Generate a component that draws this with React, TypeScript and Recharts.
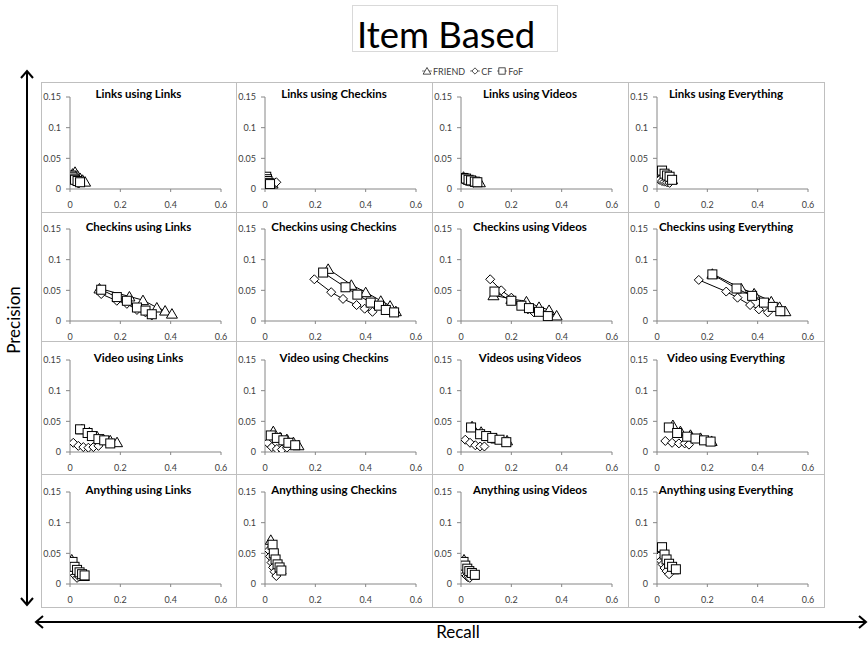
import React from 'react';
import { ScatterChart, Scatter, XAxis, YAxis } from 'recharts';

type Pt = [number, number];

const SERIES_NAMES = ['FRIEND', 'CF', 'FoF'];
const X_TICKS = [0, 0.2, 0.4, 0.6];
const Y_TICKS = [0, 0.05, 0.1, 0.15];

const PANEL_TITLES = [
  'Links using Links', 'Links using Checkins', 'Links using Videos', 'Links using Everything',
  'Checkins using Links', 'Checkins using Checkins', 'Checkins using Videos', 'Checkins using Everything',
  'Video using Links', 'Video using Checkins', 'Videos using Videos', 'Video using Everything',
  'Anything using Links', 'Anything using Checkins', 'Anything using Videos', 'Anything using Everything',
];

// Row 1 – Links
const linksLinksFriend: Pt[] = [[0.01, 0.025], [0.02, 0.028], [0.03, 0.022], [0.04, 0.018], [0.05, 0.015], [0.06, 0.012]];
const linksLinksCF: Pt[] = [[0.005, 0.02], [0.01, 0.017], [0.015, 0.014], [0.02, 0.012], [0.03, 0.01], [0.035, 0.009]];
const linksLinksFoF: Pt[] = [[0.005, 0.022], [0.01, 0.02], [0.015, 0.017], [0.02, 0.015], [0.03, 0.013], [0.04, 0.011]];

const linksCheckinsFriend: Pt[] = [[0.01, 0.015], [0.015, 0.013], [0.02, 0.011], [0.025, 0.01], [0.03, 0.009]];
const linksCheckinsCF: Pt[] = [[0.01, 0.01], [0.02, 0.009], [0.03, 0.009], [0.04, 0.01], [0.045, 0.011]];
const linksCheckinsFoF: Pt[] = [[0.005, 0.02], [0.008, 0.016], [0.01, 0.013], [0.015, 0.01], [0.02, 0.008]];

const linksVideosFriend: Pt[] = [[0.01, 0.02], [0.02, 0.018], [0.03, 0.016], [0.045, 0.014], [0.06, 0.012], [0.075, 0.011]];
const linksVideosCF: Pt[] = [[0.01, 0.015], [0.02, 0.013], [0.03, 0.012], [0.04, 0.011], [0.05, 0.01]];
const linksVideosFoF: Pt[] = [[0.01, 0.018], [0.02, 0.017], [0.03, 0.015], [0.04, 0.014], [0.055, 0.012], [0.065, 0.011]];

const linksEverythingFriend: Pt[] = [[0.02, 0.025], [0.03, 0.022], [0.04, 0.02], [0.05, 0.018], [0.06, 0.016]];
const linksEverythingCF: Pt[] = [[0.01, 0.015], [0.02, 0.013], [0.03, 0.012], [0.04, 0.011], [0.05, 0.01]];
const linksEverythingFoF: Pt[] = [[0.02, 0.03], [0.03, 0.025], [0.04, 0.022], [0.05, 0.02], [0.06, 0.015]];

// Row 2 – Checkins
const checkinsLinksFriend: Pt[] = [[0.117, 0.053], [0.236, 0.04], [0.29, 0.034], [0.345, 0.022], [0.378, 0.017], [0.405, 0.012]];
const checkinsLinksCF: Pt[] = [[0.124, 0.044], [0.186, 0.033], [0.226, 0.028], [0.266, 0.018], [0.3, 0.014], [0.325, 0.009]];
const checkinsLinksFoF: Pt[] = [[0.124, 0.051], [0.186, 0.039], [0.226, 0.033], [0.266, 0.022], [0.3, 0.017], [0.325, 0.011]];

const checkinsCheckinsFriend: Pt[] = [[0.251, 0.085], [0.343, 0.059], [0.4, 0.047], [0.46, 0.033], [0.497, 0.025], [0.52, 0.016]];
const checkinsCheckinsCF: Pt[] = [[0.196, 0.068], [0.263, 0.047], [0.31, 0.036], [0.364, 0.026], [0.396, 0.02], [0.427, 0.015]];
const checkinsCheckinsFoF: Pt[] = [[0.231, 0.079], [0.32, 0.055], [0.367, 0.043], [0.42, 0.03], [0.453, 0.025], [0.48, 0.018], [0.513, 0.014]];

const checkinsVideosFriend: Pt[] = [[0.129, 0.042], [0.2, 0.036], [0.26, 0.032], [0.31, 0.023], [0.35, 0.018], [0.38, 0.009]];
const checkinsVideosCF: Pt[] = [[0.116, 0.068], [0.16, 0.05], [0.2, 0.038], [0.24, 0.027], [0.266, 0.019], [0.29, 0.014]];
const checkinsVideosFoF: Pt[] = [[0.133, 0.048], [0.2, 0.033], [0.24, 0.025], [0.27, 0.021], [0.31, 0.015], [0.345, 0.008]];

const checkinsEverythingFriend: Pt[] = [[0.22, 0.077], [0.335, 0.053], [0.386, 0.045], [0.454, 0.032], [0.487, 0.023], [0.51, 0.016]];
const checkinsEverythingCF: Pt[] = [[0.166, 0.067], [0.275, 0.048], [0.32, 0.038], [0.37, 0.026], [0.405, 0.019], [0.44, 0.014]];
const checkinsEverythingFoF: Pt[] = [[0.22, 0.076], [0.316, 0.053], [0.378, 0.041], [0.425, 0.03], [0.46, 0.023], [0.49, 0.016]];

// Row 3 – Video
const videoLinksFriend: Pt[] = [[0.047, 0.037], [0.077, 0.032], [0.107, 0.026], [0.133, 0.021], [0.16, 0.019], [0.187, 0.016]];
const videoLinksCF: Pt[] = [[0.013, 0.015], [0.033, 0.01], [0.053, 0.008], [0.073, 0.007], [0.093, 0.008], [0.113, 0.01]];
const videoLinksFoF: Pt[] = [[0.04, 0.037], [0.07, 0.031], [0.087, 0.026], [0.113, 0.021], [0.136, 0.019], [0.16, 0.014]];

const videoCheckinsFriend: Pt[] = [[0.033, 0.034], [0.06, 0.024], [0.087, 0.021], [0.113, 0.016], [0.133, 0.011]];
const videoCheckinsCF: Pt[] = [[0.01, 0.015], [0.027, 0.008], [0.047, 0.005], [0.067, 0.004], [0.087, 0.007]];
const videoCheckinsFoF: Pt[] = [[0.023, 0.027], [0.047, 0.023], [0.073, 0.019], [0.093, 0.015], [0.12, 0.011]];

const videoVideosFriend: Pt[] = [[0.044, 0.042], [0.08, 0.033], [0.113, 0.026], [0.14, 0.022], [0.183, 0.019]];
const videoVideosCF: Pt[] = [[0.017, 0.02], [0.036, 0.015], [0.057, 0.011], [0.076, 0.009], [0.093, 0.009]];
const videoVideosFoF: Pt[] = [[0.04, 0.04], [0.076, 0.029], [0.1, 0.026], [0.124, 0.023], [0.153, 0.02], [0.18, 0.016]];

const videoEverythingFriend: Pt[] = [[0.063, 0.044], [0.093, 0.034], [0.133, 0.028], [0.173, 0.023], [0.217, 0.018]];
const videoEverythingCF: Pt[] = [[0.033, 0.018], [0.06, 0.015], [0.087, 0.014], [0.11, 0.014], [0.127, 0.012]];
const videoEverythingFoF: Pt[] = [[0.047, 0.04], [0.08, 0.031], [0.12, 0.025], [0.153, 0.022], [0.187, 0.019], [0.213, 0.017]];

// Row 4 – Anything
const anythingLinksFriend: Pt[] = [[0.007, 0.04], [0.015, 0.03], [0.025, 0.025], [0.035, 0.02], [0.045, 0.016], [0.055, 0.013]];
const anythingLinksCF: Pt[] = [[0.005, 0.022], [0.012, 0.018], [0.02, 0.014], [0.028, 0.01], [0.035, 0.012], [0.045, 0.014]];
const anythingLinksFoF: Pt[] = [[0.01, 0.036], [0.018, 0.028], [0.028, 0.023], [0.038, 0.019], [0.048, 0.016], [0.058, 0.014]];

const anythingCheckinsFriend: Pt[] = [[0.023, 0.072], [0.03, 0.058], [0.037, 0.046], [0.045, 0.037], [0.053, 0.03], [0.062, 0.024]];
const anythingCheckinsCF: Pt[] = [[0.015, 0.055], [0.02, 0.045], [0.026, 0.035], [0.032, 0.027], [0.038, 0.02], [0.045, 0.013]];
const anythingCheckinsFoF: Pt[] = [[0.03, 0.064], [0.035, 0.05], [0.042, 0.04], [0.05, 0.032], [0.058, 0.027], [0.065, 0.022]];

const anythingVideosFriend: Pt[] = [[0.012, 0.04], [0.018, 0.032], [0.025, 0.027], [0.033, 0.022], [0.042, 0.018], [0.05, 0.015]];
const anythingVideosCF: Pt[] = [[0.005, 0.022], [0.01, 0.019], [0.016, 0.016], [0.022, 0.013], [0.028, 0.011], [0.035, 0.01]];
const anythingVideosFoF: Pt[] = [[0.01, 0.036], [0.017, 0.03], [0.025, 0.025], [0.033, 0.021], [0.043, 0.018], [0.055, 0.015]];

const anythingEverythingFriend: Pt[] = [[0.02, 0.055], [0.028, 0.045], [0.036, 0.038], [0.045, 0.032], [0.055, 0.027], [0.065, 0.024]];
const anythingEverythingCF: Pt[] = [[0.008, 0.045], [0.015, 0.038], [0.022, 0.032], [0.03, 0.026], [0.038, 0.021], [0.048, 0.016]];
const anythingEverythingFoF: Pt[] = [[0.02, 0.06], [0.03, 0.048], [0.038, 0.04], [0.048, 0.033], [0.06, 0.028], [0.075, 0.024]];

const PANEL_SERIES: Pt[][][] = [
  [linksLinksFriend, linksLinksCF, linksLinksFoF],
  [linksCheckinsFriend, linksCheckinsCF, linksCheckinsFoF],
  [linksVideosFriend, linksVideosCF, linksVideosFoF],
  [linksEverythingFriend, linksEverythingCF, linksEverythingFoF],
  [checkinsLinksFriend, checkinsLinksCF, checkinsLinksFoF],
  [checkinsCheckinsFriend, checkinsCheckinsCF, checkinsCheckinsFoF],
  [checkinsVideosFriend, checkinsVideosCF, checkinsVideosFoF],
  [checkinsEverythingFriend, checkinsEverythingCF, checkinsEverythingFoF],
  [videoLinksFriend, videoLinksCF, videoLinksFoF],
  [videoCheckinsFriend, videoCheckinsCF, videoCheckinsFoF],
  [videoVideosFriend, videoVideosCF, videoVideosFoF],
  [videoEverythingFriend, videoEverythingCF, videoEverythingFoF],
  [anythingLinksFriend, anythingLinksCF, anythingLinksFoF],
  [anythingCheckinsFriend, anythingCheckinsCF, anythingCheckinsFoF],
  [anythingVideosFriend, anythingVideosCF, anythingVideosFoF],
  [anythingEverythingFriend, anythingEverythingCF, anythingEverythingFoF],
];

// layout
const COL_LEFTS = [41, 236, 432, 628];
const COL_WIDTHS = [195, 196, 196, 196];
const ROW_TOPS = [82, 212, 341, 474];
const ROW_HEIGHTS = [130, 129, 133, 133];
const PLOT_TOP = [15, 17, 19, 18];
const TITLE_Y = [12, 15, 17, 16];
const PLOT_W = 151;
const PLOT_H = 92;
const Y_AXIS_W = 29;
const FONT = 'Lato, "DejaVu Sans", sans-serif';

const Triangle = (p: any) => (
  <polygon
    points={`${p.cx},${p.cy - 5} ${p.cx + 5.5},${p.cy + 4.5} ${p.cx - 5.5},${p.cy + 4.5}`}
    fill="#fff" stroke="#000" strokeWidth={1}
  />
);
const Diamond = (p: any) => (
  <polygon
    points={`${p.cx},${p.cy - 4.5} ${p.cx + 4.5},${p.cy} ${p.cx},${p.cy + 4.5} ${p.cx - 4.5},${p.cy}`}
    fill="#fff" stroke="#000" strokeWidth={1}
  />
);
const Square = (p: any) => (
  <rect x={p.cx - 4.5} y={p.cy - 4.5} width={9} height={9} fill="#fff" stroke="#000" strokeWidth={1} />
);
const SHAPES = [Triangle, Diamond, Square];

const toData = (pts: Pt[]) => pts.map(([x, y]) => ({ x, y }));

function Panel({ idx }: { idx: number }) {
  const row = Math.floor(idx / 4);
  const col = idx % 4;
  const left = COL_LEFTS[col];
  const top = ROW_TOPS[row];
  const w = COL_WIDTHS[col];
  const h = ROW_HEIGHTS[row];
  const pt = PLOT_TOP[row];
  const xAxisH = h - pt - PLOT_H;
  const right = w - Y_AXIS_W - PLOT_W;
  const tickStyle = { fontSize: 9, fill: '#404040', fontFamily: FONT };
  return (
    <>
      <div
        style={{
          position: 'absolute', left, top, width: w + 1, height: h + 1,
          border: '1px solid #bfbfbf', boxSizing: 'border-box',
        }}
      />
      <div style={{ position: 'absolute', left, top, width: w, height: h }}>
        <ScatterChart width={w} height={h} margin={{ top: pt, right, bottom: 0, left: 0 }}>
          <XAxis
            type="number" dataKey="x" domain={[0, 0.6]} ticks={X_TICKS} height={xAxisH}
            allowDataOverflow interval={0}
            axisLine={{ stroke: '#868686' }} tickLine={{ stroke: '#868686' }}
            tickSize={3} tickMargin={10} tick={tickStyle}
          />
          <YAxis
            type="number" dataKey="y" domain={[0, 0.15]} ticks={Y_TICKS} width={Y_AXIS_W}
            allowDataOverflow interval={0}
            axisLine={{ stroke: '#868686' }} tickLine={{ stroke: '#868686' }}
            tickSize={4} tickMargin={5} tick={tickStyle}
          />
          {PANEL_SERIES[idx].map((pts, s) => (
            <Scatter
              key={SERIES_NAMES[s]}
              name={SERIES_NAMES[s]}
              data={toData(pts)}
              shape={SHAPES[s]}
              line={{ stroke: '#000', strokeWidth: 1 }}
              fill="#fff"
              isAnimationActive={false}
            />
          ))}
        </ScatterChart>
      </div>
      <div
        style={{
          position: 'absolute', left, top: top + TITLE_Y[row] - 8, width: w, height: 16,
          textAlign: 'center', fontFamily: FONT, fontWeight: 700, fontSize: 11.5,
          lineHeight: '16px', color: '#000', whiteSpace: 'nowrap',
        }}
      >
        {PANEL_TITLES[idx]}
      </div>
    </>
  );
}

function LegendIcon({ s }: { s: number }) {
  const S = SHAPES[s];
  return (
    <svg width={10} height={10} style={{ display: 'inline-block', verticalAlign: 'middle', marginRight: 1 }}>
      <line x1={0} y1={5} x2={10} y2={5} stroke="#808080" strokeWidth={1} />
      <g transform="translate(5,5) scale(0.7) translate(-5,-5)">
        {S({ cx: 5, cy: 5 })}
      </g>
    </svg>
  );
}

export default function App() {
  return (
    <div style={{ position: 'absolute', left: 0, top: 0, width: 868, height: 646, background: '#fff', fontFamily: FONT }}>
      <svg width={868} height={646} style={{ position: 'absolute', left: 0, top: 0 }}>
        <rect x={352.5} y={5.5} width={205} height={46} fill="#fff" stroke="#d9d9d9" strokeWidth={1} />
        <text x={357} y={48} fontSize={36.5} fontFamily={FONT} fill="#000">Item Based</text>
        {/* vertical arrow */}
        <line x1={27} y1={71} x2={27} y2={605} stroke="#000" strokeWidth={2} />
        <polyline points="21,78 27,71 33,78" fill="none" stroke="#000" strokeWidth={2} />
        <polyline points="21,598 27,605 33,598" fill="none" stroke="#000" strokeWidth={2} />
        {/* horizontal arrow */}
        <line x1={36} y1={622} x2={866} y2={622} stroke="#000" strokeWidth={2} />
        <polyline points="43,616 36,622 43,628" fill="none" stroke="#000" strokeWidth={2} />
        <polyline points="859,616 866,622 859,628" fill="none" stroke="#000" strokeWidth={2} />
        <text x={13} y={320} fontSize={17} fontFamily={FONT} fill="#000" textAnchor="middle"
          dominantBaseline="central" transform="rotate(-90 13 320)">Precision</text>
        <text x={458} y={638} fontSize={17} fontFamily={FONT} fill="#000" textAnchor="middle">Recall</text>
      </svg>
      <div
        style={{
          position: 'absolute', left: 422, top: 65, height: 12, display: 'flex', alignItems: 'center',
          fontSize: 9, color: '#404040', fontFamily: FONT, whiteSpace: 'nowrap',
        }}
      >
        {SERIES_NAMES.map((n, s) => (
          <span key={n} style={{ display: 'inline-flex', alignItems: 'center', marginRight: 5 }}>
            <LegendIcon s={s} />
            {n}
          </span>
        ))}
      </div>
      {PANEL_TITLES.map((_, i) => (
        <Panel key={i} idx={i} />
      ))}
    </div>
  );
}
